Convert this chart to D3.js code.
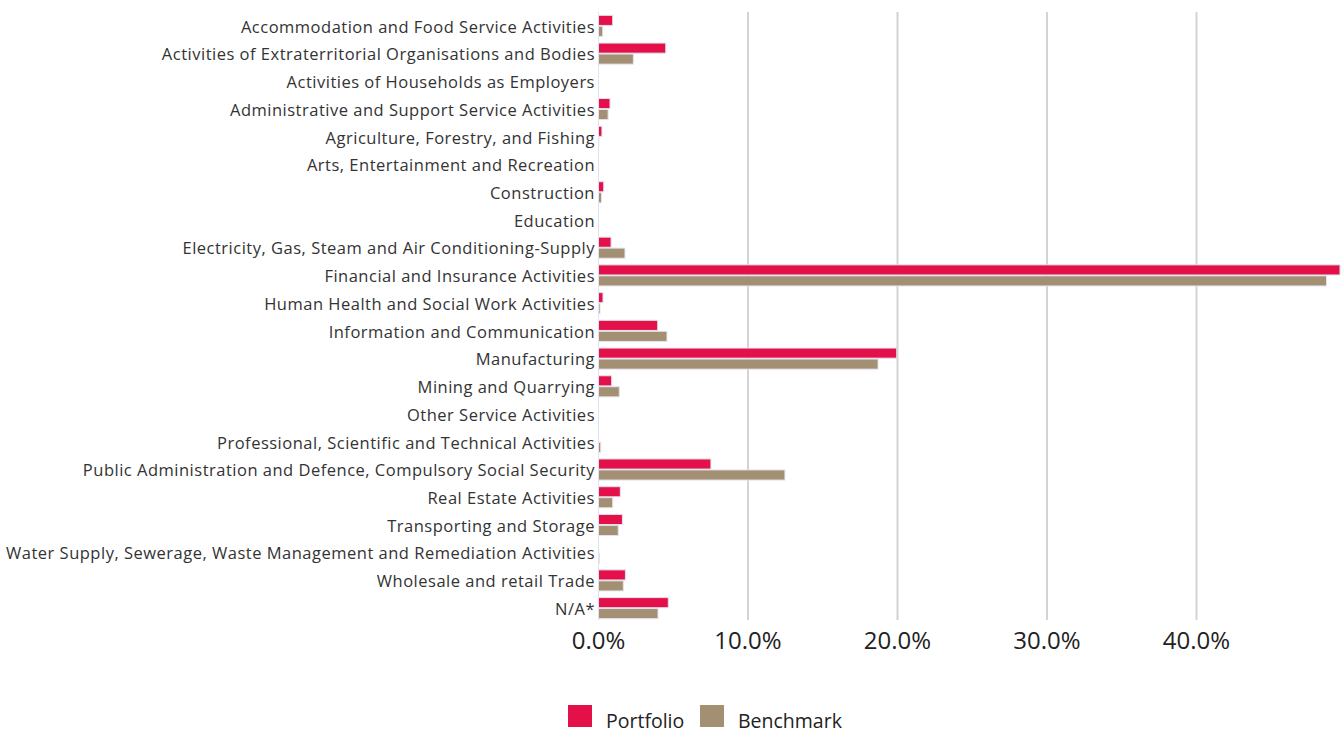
<!DOCTYPE html>
<html>
<head>
<meta charset="utf-8">
<script src="https://cdn.jsdelivr.net/npm/d3@7"></script>
<style>
  body { margin: 0; background: #fff; }
  svg { display: block; font-family: "Open Sans", sans-serif; }
</style>
</head>
<body>
<svg id="chart" width="1344" height="730"></svg>
<script>
var categories = [
    'Accommodation and Food Service Activities',
    'Activities of Extraterritorial Organisations and Bodies',
    'Activities of Households as Employers',
    'Administrative and Support Service Activities',
    'Agriculture, Forestry, and Fishing',
    'Arts, Entertainment and Recreation',
    'Construction',
    'Education',
    'Electricity, Gas, Steam and Air Conditioning-Supply',
    'Financial and Insurance Activities',
    'Human Health and Social Work Activities',
    'Information and Communication',
    'Manufacturing',
    'Mining and Quarrying',
    'Other Service Activities',
    'Professional, Scientific and Technical Activities',
    'Public Administration and Defence, Compulsory Social Security',
    'Real Estate Activities',
    'Transporting and Storage',
    'Water Supply, Sewerage, Waste Management and Remediation Activities',
    'Wholesale and retail Trade',
    'N/A*'
]
var portfolio = [0.95, 4.5, 0, 0.77, 0.23, 0, 0.35, 0, 0.84, 49.6, 0.3, 3.96, 19.95, 0.88, 0, 0, 7.52, 1.46, 1.6, 0, 1.8, 4.67]
var benchmark = [0.28, 2.33, 0, 0.64, 0.02, 0, 0.2, 0, 1.77, 48.7, 0.1, 4.58, 18.7, 1.39, 0, 0.15, 12.47, 0.95, 1.32, 0.05, 1.66, 3.98]
var seriesNames = ['Portfolio', 'Benchmark']
var seriesColors = ['#e3104a', '#a38f72']
var tickValues = [0, 10, 20, 30, 40]

var svg = d3.select('#chart')
var plotLeft = 598.5, plotRight = 1340, plotTop = 12, plotBottom = 622

var xScale = d3.scaleLinear()
    .domain([0, d3.max(portfolio)])
    .range([plotLeft, plotRight])

var yScale = d3.scaleBand()
    .domain(categories)
    .range([plotTop, plotBottom])
    .paddingInner(0.24)
    .paddingOuter(0.12)

var subScale = d3.scaleBand()
    .domain(seriesNames)
    .range([0, yScale.bandwidth()])
    .paddingInner(0.08)

// grid lines
svg.append('g')
    .selectAll('line')
    .data(tickValues)
    .enter()
    .append('line')
    .attr('x1', function(d) { return xScale(d) })
    .attr('x2', function(d) { return xScale(d) })
    .attr('y1', plotTop)
    .attr('y2', 620)
    .attr('stroke', function(d) { return d === 0 ? '#dfe3ef' : '#d3d3d3' })
    .attr('stroke-width', function(d) { return d === 0 ? 1 : 2 })

// bars
var rows = categories.map(function(c, i) {
    return {'name': c, 'values': [portfolio[i], benchmark[i]]}
})
var groups = svg.append('g')
    .selectAll('.row')
    .data(rows)
    .enter()
    .append('g')
    .attr('class', 'row')
    .attr('transform', function(d) { return 'translate(0,' + yScale(d.name) + ')' })

groups.selectAll('rect')
    .data(function(d) {
        return d.values.map(function(v, j) { return {'series': seriesNames[j], 'value': v, 'color': seriesColors[j]} })
    })
    .enter()
    .filter(function(d) { return d.value > 0 })
    .append('rect')
    .attr('x', xScale(0))
    .attr('y', function(d) { return subScale(d.series) })
    .attr('width', function(d) { return xScale(d.value) - xScale(0) })
    .attr('height', subScale.bandwidth())
    .attr('fill', function(d) { return d.color })
    .attr('stroke', '#e4e2ee')
    .attr('stroke-width', 1)

// category labels
svg.append('g')
    .selectAll('text')
    .data(categories)
    .enter()
    .append('text')
    .attr('x', 595)
    .attr('y', function(d) { return yScale(d) + yScale.bandwidth() / 2 + 1 })
    .attr('dy', '0.35em')
    .attr('text-anchor', 'end')
    .attr('font-size', 16.5)
    .attr('letter-spacing', 0.5)
    .attr('fill', '#333')
    .text(function(d) { return d })

// x axis tick labels
svg.append('g')
    .selectAll('text')
    .data(tickValues)
    .enter()
    .append('text')
    .attr('x', function(d) { return xScale(d) })
    .attr('y', 649)
    .attr('text-anchor', 'middle')
    .attr('font-size', 24)
    .attr('fill', '#222')
    .text(function(d) { return d3.format('.1f')(d) + '%' })

// legend
var legendX = [568, 700]
var legend = svg.append('g')
    .selectAll('g')
    .data(seriesNames)
    .enter()
    .append('g')
    .attr('transform', function(d, i) { return 'translate(' + legendX[i] + ',705)' })
legend.append('rect')
    .attr('width', 24)
    .attr('height', 22)
    .attr('fill', function(d, i) { return seriesColors[i] })
legend.append('text')
    .attr('x', 38)
    .attr('y', 23)
    .attr('font-size', 19.5)
    .attr('fill', '#222')
    .text(function(d) { return d })
</script>
</body>
</html>
